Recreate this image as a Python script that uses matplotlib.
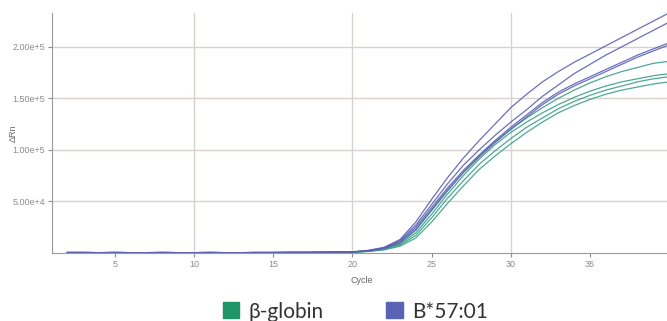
import numpy as np
import matplotlib.pyplot as plt
from matplotlib.patches import Patch

# cycles 2..40, fluorescence (delta Rn) in thousands
cycles = list(range(2, 41))

base = [0.4, 0.4, 0.3, 0.4, 0.3, 0.3, 0.4, 0.3, 0.3, 0.4, 0.3, 0.3, 0.4, 0.4, 0.5, 0.5, 0.6, 0.8]

b57_1 = base + [1.2, 2.5, 5.5, 13, 30, 52, 73, 92, 109, 125, 141, 154, 166, 176, 185, 193, 201, 209, 217, 225, 233]
b57_2 = base + [1.0, 2.3, 5.0, 12, 27, 47, 67, 85, 100, 114, 127, 139, 152, 163, 174, 183, 192, 200, 208, 216, 224]
b57_3 = base + [1.0, 2.1, 4.5, 11, 25, 44, 63, 80, 95, 109, 122, 134, 146, 156, 164, 171, 178, 185, 192, 198, 204]
b57_4 = base + [0.9, 2.0, 4.3, 10, 23, 42, 61, 78, 93, 107, 120, 132, 144, 154, 162, 169, 176, 183, 190, 196, 202]

glob_1 = base + [0.8, 1.8, 4.0, 9.5, 22, 41, 60, 78, 94, 108, 120, 131, 141, 150, 158, 165, 171, 176, 180, 184, 186]
glob_2 = base + [0.8, 1.7, 3.8, 8.5, 19.5, 37.5, 57, 75, 91, 105, 117, 127, 136, 144, 151, 157, 162, 166, 169, 172, 174]
glob_3 = base + [0.7, 1.6, 3.5, 7.5, 17, 34, 53, 70, 86, 99, 111, 122, 131, 140, 147, 153, 158, 162, 166, 169, 171]
glob_4 = base + [0.7, 1.5, 3.0, 6.5, 14.5, 30, 48, 65, 81, 94, 106, 117, 127, 136, 143, 149, 154, 158, 161, 164, 166]

y_ticks = [50000, 100000, 150000, 200000]
y_labels = ['5.00e+4', '1.00e+5', '1.50e+5', '2.00e+5']
x_ticks = [5, 10, 15, 20, 25, 30, 35]
x_grid = [10, 20, 30]

blue = '#5b60b2'
green = '#3a9f88'
grid_c = '#d8d1cd'
tick_c = '#8c8c8c'

fig = plt.figure(figsize=(6.67, 3.21), dpi=100)
ax = fig.add_axes([0.078, 0.212, 0.93, 0.748])

for yv in y_ticks:
    ax.axhline(yv, color=grid_c, lw=1.0, zorder=0)
for xv in x_grid:
    ax.axvline(xv, color=grid_c, lw=1.0, zorder=0)

for s in [glob_1, glob_2, glob_3, glob_4]:
    ax.plot(cycles, np.array(s) * 1000, color=green, lw=0.9, alpha=0.9)
for s in [b57_1, b57_2, b57_3, b57_4]:
    ax.plot(cycles, np.array(s) * 1000, color=blue, lw=0.9, alpha=0.9)

ax.set_xlim(1.03, 40.2)
ax.set_ylim(0, 233000)
ax.set_yticks(y_ticks)
ax.set_yticklabels(y_labels)
ax.set_xticks(x_ticks)
ax.tick_params(colors=tick_c, labelsize=6.5, length=3, width=0.8, pad=2)
for lab in ax.get_xticklabels() + ax.get_yticklabels():
    lab.set_family('Liberation Sans')
for sp in ['top', 'right']:
    ax.spines[sp].set_visible(False)
for sp in ['left', 'bottom']:
    ax.spines[sp].set_color('#9a9a9a')
    ax.spines[sp].set_linewidth(0.8)

ax.set_xlabel('Cycle', fontsize=6.5, color='#666666', labelpad=5, family='Liberation Sans')
ax.set_ylabel('ΔRn', fontsize=6.5, color='#666666', labelpad=-4, family='Liberation Sans')

handles = [Patch(color='#1f9466', label='β-globin'), Patch(color='#5b63b5', label='B*57:01')]
fig.legend(handles=handles, loc='lower center', bbox_to_anchor=(0.533, -0.06), ncol=2, frameon=False,
           prop={'family': ['Lato', 'DejaVu Sans'], 'size': 15}, handlelength=0.8, handleheight=0.8,
           handletextpad=0.45, columnspacing=3.0, labelcolor='#333333')

fig.savefig('out.png', dpi=100)
